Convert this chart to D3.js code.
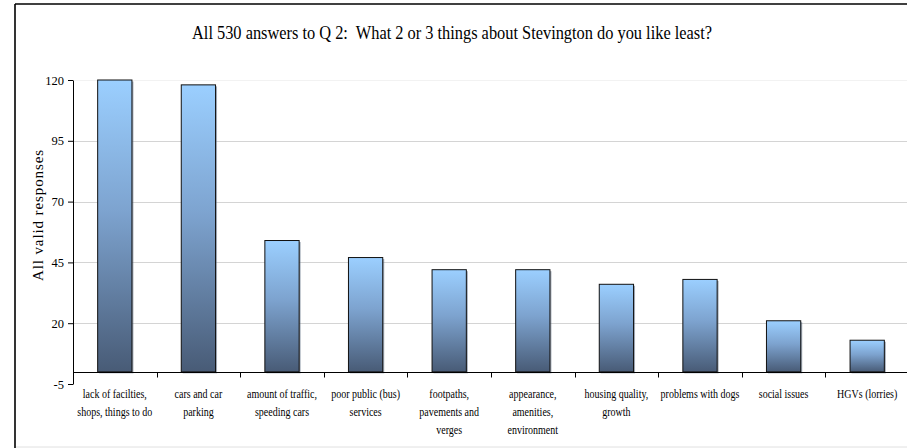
<!DOCTYPE html>
<html><head><meta charset="utf-8">
<script src="https://cdn.jsdelivr.net/npm/d3@7"></script>
<style>
html,body{margin:0;padding:0;background:#fff;}
svg{display:block;font-family:"Liberation Serif","Times New Roman",serif;}
text{white-space:pre;}
</style></head>
<body>
<svg id="chart" width="907" height="448"></svg>
<script>
const titleText = "All 530 answers to Q 2:  What 2 or 3 things about Stevington do you like least?";
const yTitle = "All valid responses";
const categories = [
  "lack of facilties,|shops, things to do",
  "cars and car|parking",
  "amount of traffic,|speeding cars",
  "poor public (bus)|services",
  "footpaths,|pavements and|verges",
  "appearance,|amenities,|environment",
  "housing quality,|growth",
  "problems with dogs",
  "social issues",
  "HGVs (lorries)"
];
const values = [120, 118, 54, 47, 42, 42, 36, 38, 21, 13];
const yTicks = [-5, 20, 45, 70, 95, 120];

(function(){
const svg = d3.select("#chart");
const W = 907, H = 448;
const pLeft = 73, pRight = 909, pTop = 80, pBottom = 384;

const y = d3.scaleLinear().domain([-5, 120]).range([pBottom, pTop]);
const x = d3.scaleBand().domain(categories).range([pLeft, pRight]).paddingInner(0.59).paddingOuter(0.295);

const defs = svg.append("defs");
const grad = defs.append("linearGradient").attr("id","barGrad").attr("x1",0).attr("y1",0).attr("x2",0).attr("y2",1);
grad.append("stop").attr("offset","0%").attr("stop-color","#9bcfff");
grad.append("stop").attr("offset","45%").attr("stop-color","#7da3cf");
grad.append("stop").attr("offset","100%").attr("stop-color","#485b76");

// frame
svg.append("line").attr("x1",15).attr("x2",W+5).attr("y1",4).attr("y2",4).attr("stroke","#000").attr("stroke-width",1.6);
svg.append("line").attr("x1",15).attr("x2",15).attr("y1",4).attr("y2",H+2).attr("stroke","#000").attr("stroke-width",1.6);
svg.append("line").attr("x1",16).attr("x2",W+5).attr("y1",447).attr("y2",447).attr("stroke","#e0e0e0").attr("stroke-width",1);

// title
svg.append("text").attr("transform","translate(452,39) scale(0.91,1)").attr("text-anchor","middle")
  .attr("font-size",18).attr("fill","#000").text(titleText);

// gridlines
svg.append("g").selectAll("line").data(yTicks.filter(d => d > 0)).join("line")
  .attr("x1",pLeft).attr("x2",pRight)
  .attr("y1",d => Math.round(y(d))+0.5).attr("y2",d => Math.round(y(d))+0.5)
  .attr("stroke",d => d === 120 ? "#f2f2f2" : "#d4d4d4").attr("stroke-width",1);

// y axis
const yAxis = svg.append("g").attr("transform",`translate(${pLeft},0)`)
  .call(d3.axisLeft(y).tickValues(yTicks).tickSize(5).tickSizeOuter(0).tickPadding(4).tickFormat(d => String(d)));
yAxis.attr("font-family",null);
yAxis.select(".domain").attr("stroke","#000");
yAxis.selectAll(".tick line").attr("stroke","#000");
yAxis.selectAll(".tick text").attr("font-family","Liberation Serif, Times New Roman, serif").attr("font-size",12.5).attr("fill","#000");

// y title
svg.append("text").attr("transform",`translate(43,215) rotate(-90)`).attr("text-anchor","middle")
  .attr("font-size",15).attr("letter-spacing",0.9).attr("fill","#000").text(yTitle);

// bars shadow
svg.append("g").selectAll("rect").data(values).join("rect")
  .attr("x",(d,i) => x(categories[i]) + 1.5).attr("y",d => y(d) + 1.5)
  .attr("width",x.bandwidth()).attr("height",d => y(0) - y(d))
  .attr("fill","#5a6a80").attr("opacity",0.55);
// bars
svg.append("g").selectAll("rect").data(values).join("rect")
  .attr("x",(d,i) => x(categories[i])).attr("y",d => y(d))
  .attr("width",x.bandwidth()).attr("height",d => y(0) - y(d))
  .attr("fill","url(#barGrad)").attr("stroke","#111").attr("stroke-width",1);

// zero line (category axis)
const y0 = Math.round(y(0)) + 0.5;
svg.append("line").attr("x1",pLeft).attr("x2",pRight).attr("y1",y0).attr("y2",y0).attr("stroke","#000");
// category ticks at boundaries
const step = x.step();
svg.append("g").selectAll("line").data(categories.slice(0,-1)).join("line")
  .attr("x1",d => Math.round(x(d) + x.bandwidth()/2 + step/2)+0.5)
  .attr("x2",d => Math.round(x(d) + x.bandwidth()/2 + step/2)+0.5)
  .attr("y1",y0).attr("y2",y0+5).attr("stroke","#000");

// category labels
const lab = svg.append("g").selectAll("text").data(categories).join("text")
  .attr("text-anchor","middle").attr("font-size",11.5).attr("fill","#000")
  .attr("transform",d => `translate(${x(d) + x.bandwidth()/2},398) scale(0.87,1)`);
lab.selectAll("tspan").data(d => d.split("|")).join("tspan")
  .attr("x",0).attr("y",(t,i) => i*18).text(t => t);
})();
</script>
</body></html>
